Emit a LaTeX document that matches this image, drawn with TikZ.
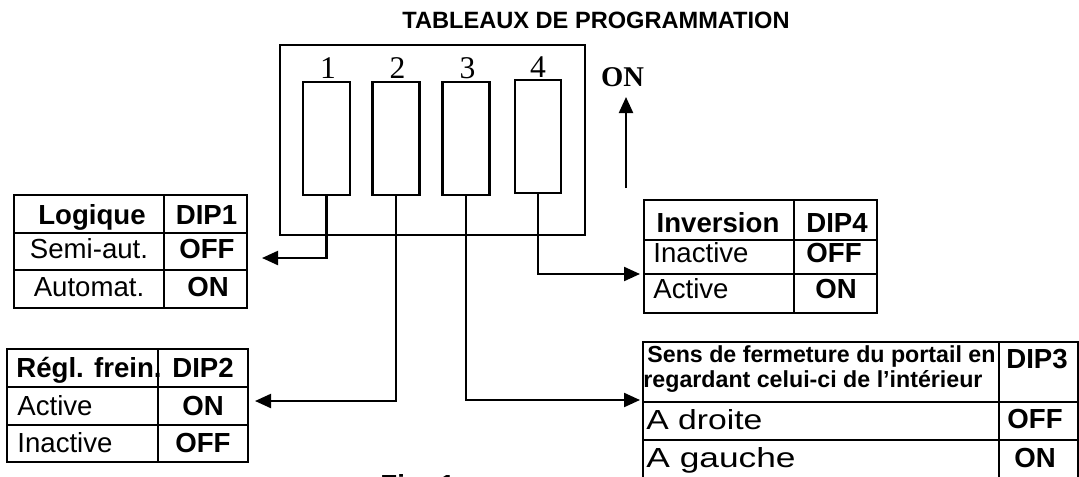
\documentclass[tikz,border=0pt]{standalone}
\usepackage{fontspec}
\setmainfont{Liberation Sans}
\newfontfamily\seriffam{Liberation Serif}
\usetikzlibrary{arrows.meta}
\tikzset{
  tbl/.style={line width=1.1pt},
  sw/.style={draw, line width=1.1pt, minimum width=23.5pt, minimum height=56.5pt, inner sep=0pt},
  conn/.style={line width=1.1pt, -{Triangle[length=8pt,width=7pt]}},
  txt/.style={anchor=base, inner sep=0pt, font=\fontsize{13.8}{16}\selectfont},
  btxt/.style={anchor=base, inner sep=0pt, font=\fontsize{13.8}{16}\selectfont\bfseries},
  ltxt/.style={txt, anchor=base west},
  lbtxt/.style={btxt, anchor=base west},
  htxt/.style={anchor=base west, inner sep=0pt, font=\fontsize{11.6}{13}\selectfont\bfseries},
  num/.style={anchor=base, inner sep=0pt, font=\fontsize{15.8}{17}\selectfont\seriffam},
}
\begin{document}
\begin{tikzpicture}[x=0.5pt,y=-0.5pt]
\useasboundingbox (0,0) rectangle (1079,476);

% title
\node[anchor=base, inner sep=0pt, font=\fontsize{11.8}{13}\selectfont\bfseries] (title) at (596,29) {TABLEAUX DE PROGRAMMATION};

% DIP switch block
\draw[line width=1.1pt] (280,45) rectangle (585,235);
\node[sw] (s1) at (326.5,138.5) {};
\node[sw] (s2) at (396,138.5) {};
\node[sw] (s3) at (466,138.5) {};
\node[sw, minimum width=23pt] (s4) at (538,136.5) {};
\node[num] (n1) at (328,78) {1};
\node[num] (n2) at (397.5,79) {2};
\node[num] (n3) at (467.5,79) {3};
\node[num] (n4) at (538,77) {4};

% ON indicator
\node[anchor=base, inner sep=0pt, font=\fontsize{14.3}{16}\selectfont\seriffam\bfseries] (on) at (622.5,87) {ON};
\coordinate (ona) at (626,188);
\coordinate (onb) at (626,97);
\draw[conn] (ona) -- (onb);

% DIP1 table
\draw[tbl] (14,195) rectangle (247,308);
\draw[tbl] (164,195) -- (164,308);
\draw[tbl] (14,233) -- (247,233);
\draw[tbl] (14,270) -- (247,270);
\node[btxt] (d1h) at (92,224) {Logique};
\node[btxt] (d1k) at (206.5,224) {DIP1};
\node[txt] (d1a) at (89,258) {Semi-aut.};
\node[btxt] (d1av) at (207,258) {OFF};
\node[txt] (d1b) at (89,296) {Automat.};
\node[btxt] (d1bv) at (208,296) {ON};

% DIP2 table
\draw[tbl] (7,349) rectangle (248,462);
\draw[tbl] (158,349) -- (158,462);
\draw[tbl] (7,387) -- (248,387);
\draw[tbl] (7,425) -- (248,425);
\node[lbtxt] (d2h) at (16,377) {Régl. frein.};
\node[btxt] (d2k) at (203,377) {DIP2};
\node[ltxt] (d2a) at (17,415) {Active};
\node[btxt] (d2av) at (203,415) {ON};
\node[ltxt] (d2b) at (17,452) {Inactive};
\node[btxt] (d2bv) at (203,452) {OFF};

% DIP4 table
\draw[tbl] (644,200) rectangle (877,313);
\draw[tbl] (794,200) -- (794,313);
\draw[tbl] (644,240) -- (877,240);
\draw[tbl] (644,274) -- (877,274);
\node[btxt] (d4h) at (718,232) {Inversion};
\node[btxt] (d4k) at (837,232) {DIP4};
\node[ltxt] (d4a) at (653,262) {Inactive};
\node[btxt] (d4av) at (834,262) {OFF};
\node[ltxt] (d4b) at (653,298) {Active};
\node[btxt] (d4bv) at (836,298) {ON};

% DIP3 table
\draw[tbl] (643,342) rectangle (1078,480);
\draw[tbl] (999,342) -- (999,480);
\draw[tbl] (643,402) -- (1078,402);
\draw[tbl] (643,440) -- (1078,440);
\node[htxt] (d3h1) at (647,362) {Sens de fermeture du portail en};
\node[htxt] (d3h2) at (643,387) {regardant celui-ci de l’intérieur};
\node[btxt] (d3k) at (1037,368) {DIP3};
\node[ltxt] (d3a) at (646,429) {\scalebox{1.22}[1]{A droite}};
\node[btxt] (d3av) at (1035,428) {OFF};
\node[ltxt] (d3b) at (646,467) {\scalebox{1.28}[1]{A gauche}};
\node[btxt] (d3bv) at (1035,467) {ON};

% connectors
\coordinate (t1) at (262,258);
\coordinate (t2) at (255,401);
\coordinate (t3) at (640,400);
\coordinate (t4) at (640,274);
\draw[conn] (s1.south) |- (t1);
\draw[conn] (s2.south) |- (t2);
\draw[conn] (s3.south) |- (t3);
\draw[conn] (s4.south) |- (t4);

% caption (cut off at the lower edge, as in the reference)
\node[lbtxt] (fig) at (380,494) {Fig. 1};
\end{tikzpicture}
\end{document}
